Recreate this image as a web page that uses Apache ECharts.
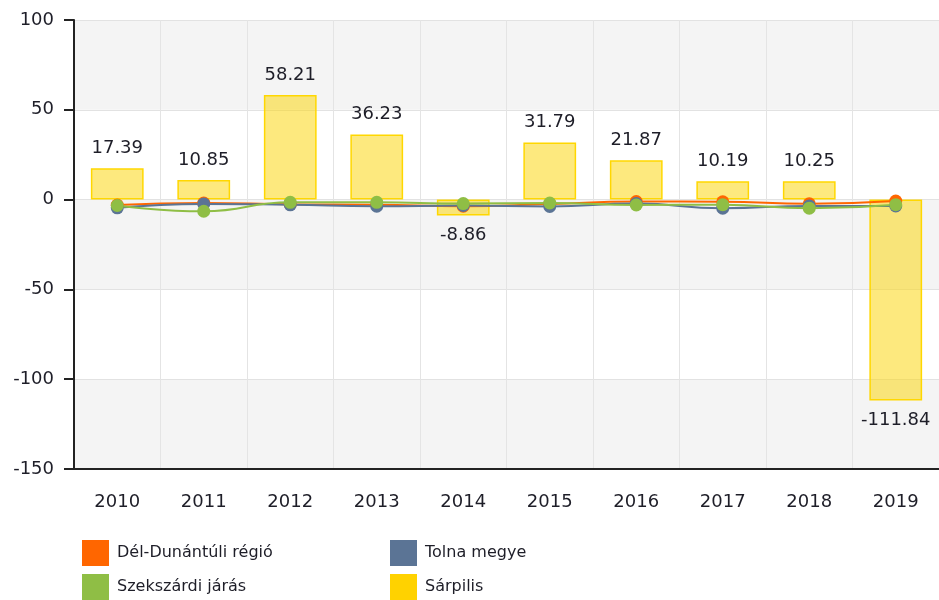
<!DOCTYPE html>
<html>
<head>
<meta charset="utf-8">
<script src="https://cdn.jsdelivr.net/npm/echarts@6/dist/echarts.min.js"></script>
<style>
  html, body { margin: 0; padding: 0; background: #fff; }
  #chart { width: 939px; height: 600px; }
</style>
</head>
<body>
<div id="chart"></div>
<script>
// évek
const years = ['2010', '2011', '2012', '2013', '2014', '2015', '2016', '2017', '2018', '2019'];
// vonalak (becsült értékek)
const delDunantuli = [-3.0, -1.9, -2.6, -2.8, -3.7, -2.4, -1.1, -1.2, -2.3, -0.8];
const tolnaMegye = [-4.6, -2.4, -2.9, -3.7, -3.3, -3.8, -2.2, -4.8, -3.5, -3.5];
const szekszardi = [-3.3, -6.5, -1.5, -1.5, -2.2, -1.9, -3.0, -2.8, -4.8, -2.8];
// oszlopok
const sarpilis = [17.39, 10.85, 58.21, 36.23, -8.86, 31.79, 21.87, 10.19, 10.25, -111.84];

const chart = echarts.init(document.getElementById('chart'));
const font = 'DejaVu Sans, Verdana, sans-serif';
const textColor = '#1e1e28';

// vonal sorozat létrehozása
function lineSeries(name, data, color) {
  return {
    name: name,
    type: 'line',
    data: data,
    smooth: true,
    symbol: 'circle',
    symbolSize: 13,
    itemStyle: { color: color },
    lineStyle: { color: color, width: 2 },
    z: 3
  };
}

// jelmagyarázat oszlop (keskeny szélesség -> soronként egy elem)
function legendCol(left, names) {
  return {
    left: left,
    top: 540,
    orient: 'horizontal',
    width: 60,
    padding: 0,
    itemWidth: 27,
    itemHeight: 26,
    itemGap: 8,
    icon: 'rect',
    textStyle: { fontSize: 16, color: textColor, fontFamily: font, padding: [0, 0, 0, 3] },
    data: names
  };
}

chart.setOption({
  animation: false,
  textStyle: { fontFamily: font },
  grid: { left: 74, right: -3, top: 20, bottom: 131 },
  legend: [
    legendCol(82, ['Dél-Dunántúli régió', 'Szekszárdi járás']),
    legendCol(390, ['Tolna megye', { name: 'Sárpilis', itemStyle: { color: '#ffd200', borderWidth: 0 } }])
  ],
  xAxis: {
    type: 'category',
    data: years,
    boundaryGap: true,
    axisLine: { onZero: false, lineStyle: { color: '#222', width: 2 } },
    axisTick: { alignWithLabel: true, length: 9, lineStyle: { color: '#222', width: 2 } },
    axisLabel: { fontSize: 18, color: textColor, margin: 24, fontFamily: font },
    splitLine: { show: true, lineStyle: { color: '#e4e4e4' } }
  },
  yAxis: {
    type: 'value',
    min: -150,
    max: 100,
    interval: 50,
    axisLine: { show: true, lineStyle: { color: '#222', width: 2 } },
    axisTick: { show: true, length: 10, lineStyle: { color: '#222', width: 2 } },
    axisLabel: { fontSize: 18, color: textColor, margin: 20, fontFamily: font },
    splitLine: { show: true, lineStyle: { color: '#e2e2e2' } },
    splitArea: { show: true, areaStyle: { color: ['#f4f4f4', '#ffffff'] } }
  },
  series: [
    {
      name: 'Sárpilis',
      type: 'bar',
      data: sarpilis,
      barWidth: '61%',
      itemStyle: { color: 'rgba(252, 215, 20, 0.55)', borderColor: '#ffd700', borderWidth: 1.5 },
      label: {
        show: true,
        position: 'outside',
        distance: 11,
        fontSize: 18,
        color: textColor,
        fontFamily: font
      },
      z: 1
    },
    lineSeries('Dél-Dunántúli régió', delDunantuli, '#ff6600'),
    lineSeries('Tolna megye', tolnaMegye, '#5b7495'),
    lineSeries('Szekszárdi járás', szekszardi, '#8fbe45')
  ]
});
</script>
</body>
</html>
